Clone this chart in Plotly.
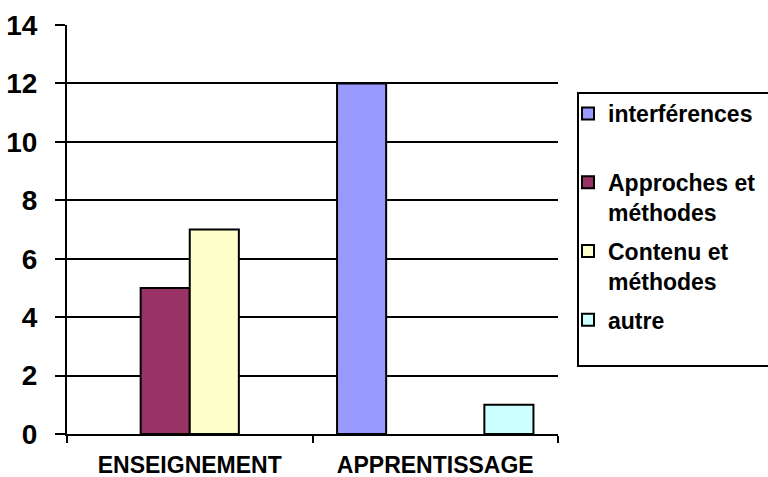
import plotly.graph_objects as go

# Categories and series counts
categories = ["ENSEIGNEMENT", "APPRENTISSAGE"]
series_names = ["interférences", "Approches et<br>méthodes", "Contenu et<br>méthodes", "autre"]
interferences = [0, 12]
approches_methodes = [5, 0]
contenu_methodes = [7, 0]
autre = [0, 1]
y_ticks = [0, 2, 4, 6, 8, 10, 12, 14]

colors = ["#9999FF", "#993366", "#FFFFCC", "#CCFFFF"]
values = [interferences, approches_methodes, contenu_methodes, autre]

font_family = "Liberation Sans, Arial, sans-serif"

fig = go.Figure()
for i, (name, vals, col) in enumerate(zip(series_names, values, colors)):
    # bold each line; single-line entries get a blank second line so legend slots match
    if "<br>" in name:
        label = "<br>".join(f"<b>{part}</b>" for part in name.split("<br>"))
    else:
        label = f"<b>{name}</b><br> "
    fig.add_trace(go.Bar(
        x=categories,
        # empty counts are left out so no flat outline is drawn on the axis
        y=[v if v else None for v in vals],
        name=label,
        legendgroup=f"g{i}",
        marker=dict(color=col, line=dict(color="black", width=2)),
    ))

L, R, T, B = 67, 210, 25, 43
W, H = 768, 477
plot_w, plot_h = W - L - R, H - T - B


def px_x(px):
    return (px - L) / plot_w


def px_y(py):
    return (H - B - py) / plot_h


# Legend frame drawn as a paper-referenced rectangle
fig.add_shape(
    type="rect", xref="paper", yref="paper",
    x0=px_x(578), x1=px_x(790), y0=px_y(366), y1=px_y(93),
    line=dict(color="black", width=2),
    fillcolor="white", layer="below",
)

fig.update_layout(
    width=W,
    height=H,
    margin=dict(l=L, r=R, t=T, b=B, autoexpand=False),
    paper_bgcolor="white",
    plot_bgcolor="white",
    barmode="group",
    bargap=0.2,
    bargroupgap=0,
    font=dict(family=font_family, color="black"),
    showlegend=True,
    legend=dict(
        xref="container", yref="container",
        x=568 / W, y=1 - 92 / H,
        xanchor="left", yanchor="top",
        borderwidth=0,
        bgcolor="rgba(0,0,0,0)",
        font=dict(family=font_family, size=23, color="black"),
        tracegroupgap=6,
        valign="top",
        traceorder="grouped",
        maxheight=400,
    ),
    xaxis=dict(
        type="category",
        automargin=False,
        showline=True,
        linecolor="black",
        linewidth=2,
        ticks="outside",
        tickson="boundaries",
        ticklen=7,
        tickwidth=2,
        tickcolor="black",
        tickfont=dict(family=font_family, size=23, color="black", weight="bold"),
        ticklabelstandoff=9,
        showgrid=False,
        zeroline=False,
    ),
    yaxis=dict(
        range=[0, 14],
        automargin=False,
        tickvals=y_ticks,
        showline=True,
        linecolor="black",
        linewidth=2,
        showgrid=True,
        gridcolor="black",
        gridwidth=2,
        ticks="outside",
        ticklen=10,
        tickwidth=2,
        tickcolor="black",
        tickfont=dict(family=font_family, size=28, color="black", weight="bold"),
        ticklabelstandoff=12,
        zeroline=False,
    ),
)

fig.write_html("out.html")
